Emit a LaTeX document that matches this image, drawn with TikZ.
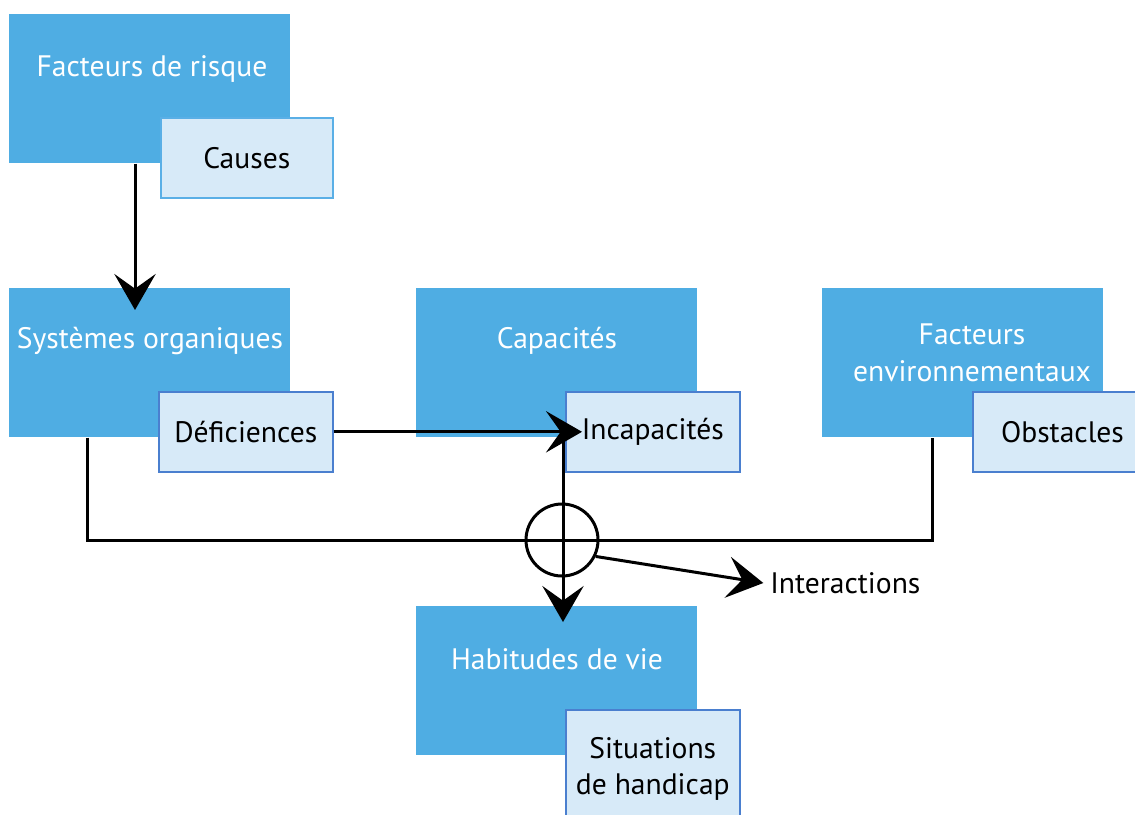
\documentclass[tikz,border=0pt]{standalone}
\usepackage{fontspec}
\setmainfont{PT Sans}
\usetikzlibrary{arrows.meta,calc}
\definecolor{bigblue}{HTML}{4FADE3}
\definecolor{smallfill}{HTML}{D7EAF8}
\definecolor{smallline}{HTML}{4A7FCF}
\definecolor{lightline}{HTML}{5AAFE6}
\begin{document}
\begin{tikzpicture}[x=0.75pt,y=-0.75pt,font=\fontsize{22.2}{27.5}\selectfont,
  bigbox/.style={fill=bigblue,draw=none,minimum width=210.75pt,minimum height=111.75pt,anchor=north west,inner sep=0pt},
  smallbox/.style={fill=smallfill,draw=smallline,line width=1.2pt,minimum width=130.5pt,minimum height=60pt,anchor=north west,inner sep=0pt,align=center},
  bigtext/.style={text=white,inner sep=0pt,align=center},
  conn/.style={line width=2.25pt},
  arr/.style={conn,-{Stealth[length=27pt,width=31pt,inset=11pt]}}]
\useasboundingbox (0,0) rectangle (1135,814);
% big boxes
\node[bigbox] (fr) at (9,14) {};
\node[bigbox] (so) at (9,288) {};
\node[bigbox] (ca) at (416,288) {};
\node[bigbox] (fe) at (822,288) {};
\node[bigbox] (hv) at (416,606) {};
% big box texts
\node[bigtext] (fr-t) at (152,69) {Facteurs de risque};
\node[bigtext] (so-t) at (150,341) {Systèmes organiques};
\node[bigtext] (ca-t) at (557,341) {Capacités};
\node[bigtext] (fe-t) at (972,353) {Facteurs\\environnementaux};
\node[bigtext] (hv-t) at (557,659) {Habitudes de vie};
% small boxes
\node[smallbox,draw=lightline,minimum width=129pt] (cau) at (160,117) {Causes};
\node[smallbox] (def) at (158,391) {Déficiences};
\node[smallbox] (inc) at (565,391) {\raisebox{-2pt}{Incapacités}};
\node[smallbox] (obs) at (972,391) {\hspace*{4pt}Obstacles};
\node[smallbox,minimum height=88.5pt] (sit) at (565,709) {Situations\\de handicap};
% connectors
\draw[arr] ([xshift=94.5pt]fr.south west) -- ([xshift=94.5pt,yshift=-16.5pt]so.north west);
\node[draw,circle,line width=2.25pt,minimum size=54pt,inner sep=0pt] (x) at (562,540) {};
\draw[conn] ([xshift=58.5pt]so.south west) |- (x.center) -| ([xshift=82.5pt]fe.south west);
\draw[arr] (def.east) -- ([xshift=12.75pt]inc.west);
\draw[arr] ([xshift=-1.5pt]inc.west) -- ([xshift=110.25pt,yshift=-12pt]hv.north west);
\node[inner sep=0pt,anchor=west] (int) at (770,583) {Interactions};
\draw[arr] (x.-26) -- ([xshift=-5pt]int.west);
\end{tikzpicture}
\end{document}
